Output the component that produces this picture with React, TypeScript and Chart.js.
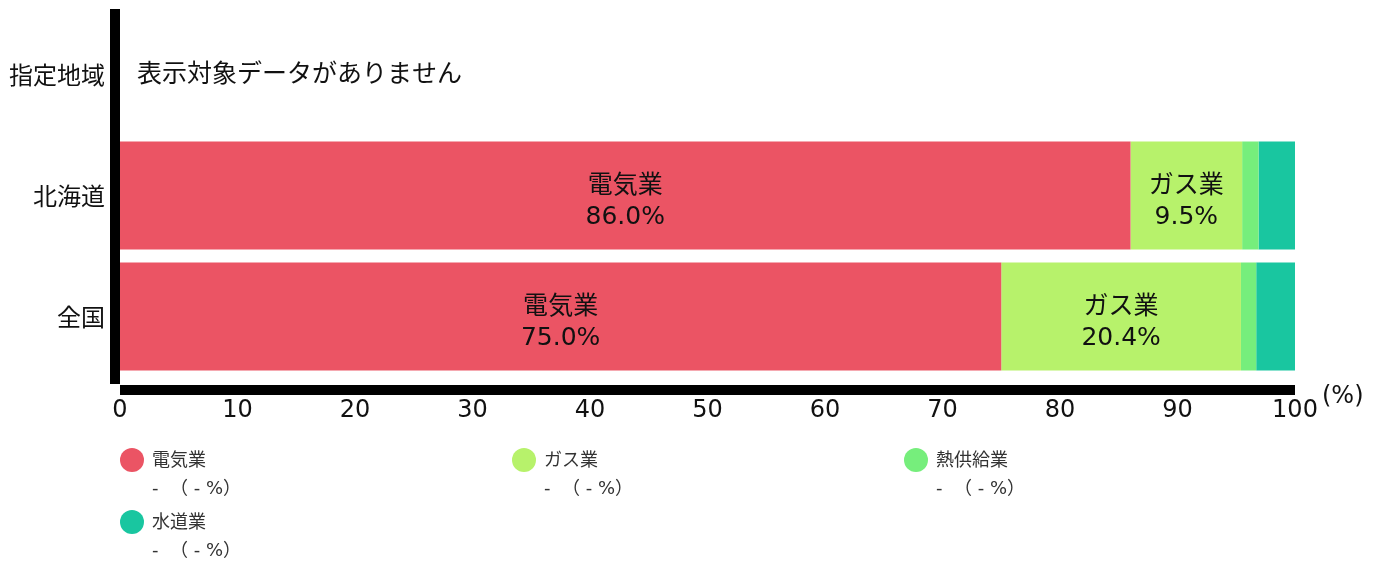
import React, { useEffect, useRef } from "react";
import { Chart, registerables } from "chart.js";

Chart.register(...registerables);

const categories = ["指定地域", "北海道", "全国"];
const seriesNames = ["電気業", "ガス業", "熱供給業", "水道業"];
const electric = [null, 86.0, 75.0];
const gas = [null, 9.5, 20.4];
const heat = [null, 1.4, 1.3];
const water = [null, 3.1, 3.3];
const seriesColors = ["#EB5464", "#B7F26B", "#76EE7C", "#19C6A0"];
const xMin = 0;
const xMax = 100;
const xStep = 10;
const noDataText = "表示対象データがありません";
const legendValueText = "-  （ - %）";
const unitLabel = "(%)";

const FONT = "'DejaVu Sans', 'Noto Sans CJK JP', sans-serif";
const CJK = "'Noto Sans CJK JP', 'DejaVu Sans', sans-serif";

const overlayPlugin = {
  id: "overlay",
  afterDraw(chart: any) {
    const ctx = chart.ctx as CanvasRenderingContext2D;
    const area = chart.chartArea;
    const yScale = chart.scales.y;
    ctx.save();
    // axis lines
    ctx.fillStyle = "#000";
    ctx.fillRect(area.left - 10, area.top - 5, 10, area.bottom - area.top + 12);
    ctx.fillRect(area.left, area.bottom + 8, area.right - area.left, 10);

    // bar labels
    ctx.font = `25px ${FONT}`;
    ctx.textAlign = "center";
    ctx.textBaseline = "middle";
    ctx.fillStyle = "#111";
    chart.data.datasets.forEach((ds: any, di: number) => {
      const meta = chart.getDatasetMeta(di);
      meta.data.forEach((bar: any, i: number) => {
        const v = ds.data[i];
        if (v == null || v < 5) return;
        const props = bar.getProps(["x", "y", "base"], true);
        const cx = (props.x + props.base) / 2;
        const cy = props.y;
        ctx.fillText(ds.label, cx, cy - 9);
        ctx.fillText(v.toFixed(1) + "%", cx, cy + 22);
      });
    });

    // no data text for empty categories
    categories.forEach((c, i) => {
      const hasData = chart.data.datasets.some((ds: any) => ds.data[i] != null);
      if (!hasData) {
        ctx.font = `25px ${CJK}`;
        ctx.textAlign = "left";
        ctx.fillText(noDataText, area.left + 17, yScale.getPixelForValue(i) - 2);
      }
    });

    // unit label
    ctx.font = `24px ${FONT}`;
    ctx.textAlign = "left";
    ctx.fillText(unitLabel, area.right + 27, area.bottom + 20);

    // legend
    const colX = [120, 512, 904];
    const rowY = [460, 522];
    chart.data.datasets.forEach((ds: any, di: number) => {
      const col = di % 3;
      const row = Math.floor(di / 3);
      const x = colX[col];
      const y = rowY[row];
      ctx.fillStyle = ds.backgroundColor;
      ctx.beginPath();
      ctx.arc(x + 12, y, 12, 0, Math.PI * 2);
      ctx.fill();
      ctx.fillStyle = "#333";
      ctx.font = `18px ${FONT}`;
      ctx.textAlign = "left";
      ctx.textBaseline = "middle";
      ctx.fillText(ds.label, x + 32, y + 1);
      ctx.fillText(legendValueText, x + 32, y + 29);
    });
    ctx.restore();
  },
};

export default function App() {
  const ref = useRef<HTMLCanvasElement | null>(null);
  useEffect(() => {
    if (!ref.current) return;
    const seriesValues = [electric, gas, heat, water];
    const chart = new Chart(ref.current, {
      type: "bar",
      data: {
        labels: categories,
        datasets: seriesNames.map((name, i) => ({
          label: name,
          data: seriesValues[i] as any,
          backgroundColor: seriesColors[i],
          borderWidth: 0,
          barPercentage: 0.893,
          categoryPercentage: 1,
        })),
      },
      options: {
        indexAxis: "y",
        responsive: false,
        animation: false,
        events: [],
        layout: { padding: { top: 14, right: 89, left: 0, bottom: 0 } },
        plugins: {
          legend: { display: false },
          tooltip: { enabled: false },
          title: { display: false },
        },
        scales: {
          x: {
            stacked: true,
            min: xMin,
            max: xMax,
            grid: { display: false, drawTicks: false },
            border: { display: false },
            ticks: {
              stepSize: xStep,
              padding: 19,
              color: "#111",
              font: { size: 24, family: FONT },
              maxRotation: 0,
              autoSkip: false,
            },
            afterFit(scale: any) {
              scale.height = 185;
            },
          },
          y: {
            stacked: true,
            grid: { display: false, drawTicks: false },
            border: { display: false },
            ticks: {
              padding: 15,
              color: "#111",
              font: { size: 24, family: CJK },
            },
            afterFit(scale: any) {
              scale.width = 120;
              scale.paddingTop = 0;
              scale.paddingBottom = 0;
            },
          },
        },
      },
      plugins: [overlayPlugin],
    });
    return () => chart.destroy();
  }, []);
  return (
    <div style={{ position: "absolute", left: 0, top: 0, width: 1384, height: 562, background: "#fff" }}>
      <canvas ref={ref} width={1384} height={562} style={{ display: "block" }} />
    </div>
  );
}
